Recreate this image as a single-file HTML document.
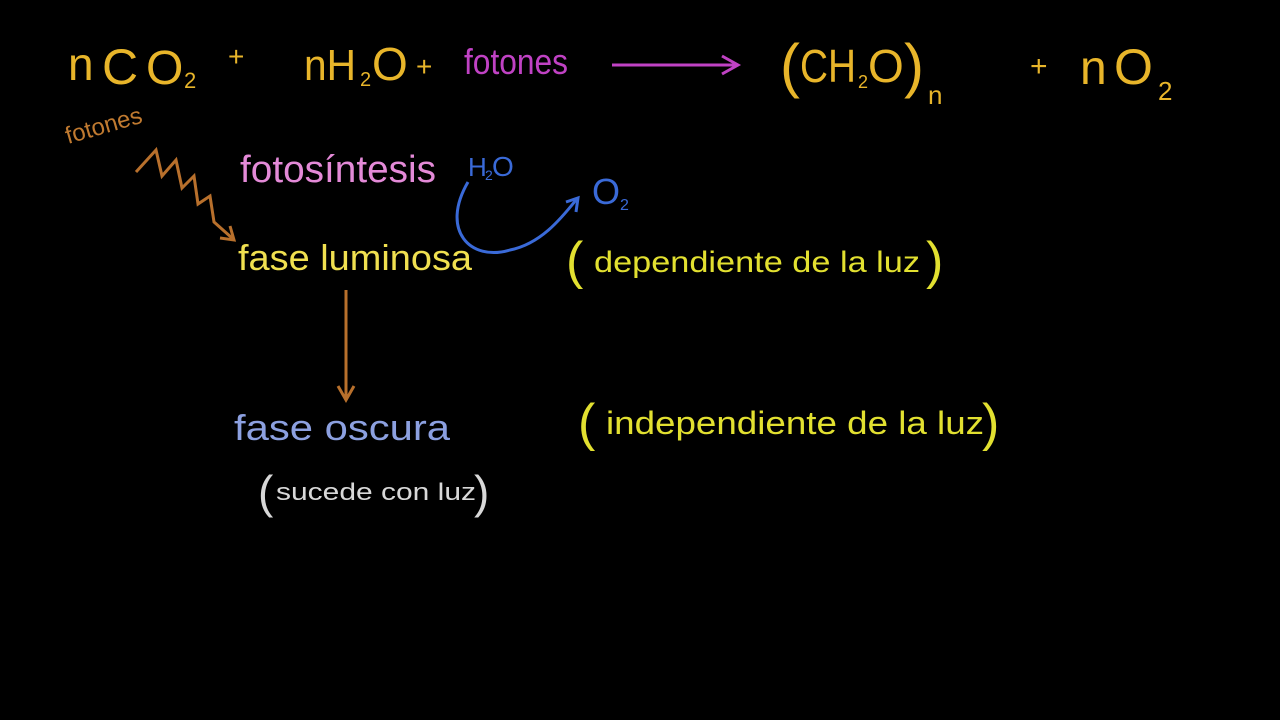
<!DOCTYPE html>
<html><head><meta charset="utf-8"><style>
html,body{margin:0;padding:0;background:#000;width:1280px;height:720px;overflow:hidden}
svg{display:block}
text{font-family:"Liberation Sans",sans-serif}
</style></head><body>
<svg width="1280" height="720" viewBox="0 0 1280 720">
<rect width="1280" height="720" fill="#000"/>
<g fill="#e8b52a">
<text x="68" y="80" font-size="46">n</text>
<text x="102" y="84" font-size="50">C</text>
<text x="146" y="84" font-size="48">O</text>
<text x="184" y="88" font-size="22">2</text>
<text x="228" y="66" font-size="28">+</text>
<text x="304" y="80" font-size="44" textLength="52" lengthAdjust="spacingAndGlyphs">nH</text>
<text x="360" y="86" font-size="20">2</text>
<text x="372" y="80" font-size="46">O</text>
<text x="416" y="76" font-size="28">+</text>
<text x="780" y="86" font-size="60">(</text>
<text x="800" y="82" font-size="46" textLength="56" lengthAdjust="spacingAndGlyphs">CH</text>
<text x="858" y="88" font-size="18">2</text>
<text x="868" y="82" font-size="46">O</text>
<text x="904" y="86" font-size="60">)</text>
<text x="928" y="104" font-size="26">n</text>
<text x="1030" y="76" font-size="30">+</text>
<text x="1080" y="84" font-size="48">n</text>
<text x="1114" y="84" font-size="50">O</text>
<text x="1158" y="100" font-size="26">2</text>
</g>
<text x="464" y="74" font-size="36" fill="#c042c4" textLength="104" lengthAdjust="spacingAndGlyphs">fotones</text>
<line x1="612" y1="65" x2="736" y2="65" stroke="#c042c4" stroke-width="3"/>
<polyline points="722,56 738,65 722,74" fill="none" stroke="#c042c4" stroke-width="3"/>
<text x="68" y="144" font-size="24" fill="#c07a30" transform="rotate(-16 68 144)">fotones</text>
<path d="M136,172 L156,150 L162,176 L176,160 L182,188 L194,176 L198,204 L210,196 L214,222 L232,238" fill="none" stroke="#b8702c" stroke-width="3"/>
<polyline points="220,238 234,240 230,226" fill="none" stroke="#b8702c" stroke-width="3"/>
<text x="240" y="182" font-size="38" fill="#e48ad8" textLength="196" lengthAdjust="spacingAndGlyphs">fotosíntesis</text>
<text x="468" y="176" font-size="26" fill="#3a6ad8">H</text><text x="485" y="180" font-size="14" fill="#3a6ad8">2</text><text x="492" y="176" font-size="28" fill="#3a6ad8">O</text>
<text x="592" y="204" font-size="36" fill="#3a6ad8">O</text><text x="620" y="210" font-size="16" fill="#3a6ad8">2</text>
<path d="M468,182 C440,230 470,262 510,250 C540,244 560,220 576,200" fill="none" stroke="#3a6ad8" stroke-width="3"/>
<polyline points="566,202 578,198 576,212" fill="none" stroke="#3a6ad8" stroke-width="3"/>
<text x="238" y="270" font-size="36" fill="#f0e050" textLength="234" lengthAdjust="spacingAndGlyphs">fase luminosa</text>
<text x="566" y="278" font-size="52" fill="#e2e030">(</text>
<text x="594" y="272" font-size="30" fill="#e2e030" textLength="326" lengthAdjust="spacingAndGlyphs">dependiente de la luz</text>
<text x="926" y="278" font-size="52" fill="#e2e030">)</text>
<line x1="346" y1="290" x2="346" y2="398" stroke="#b8702c" stroke-width="3"/>
<polyline points="338,386 346,400 354,386" fill="none" stroke="#b8702c" stroke-width="3"/>
<text x="234" y="440" font-size="36" fill="#8ca0e0" textLength="216" lengthAdjust="spacingAndGlyphs">fase oscura</text>
<text x="578" y="440" font-size="52" fill="#e2e030">(</text>
<text x="606" y="434" font-size="32" fill="#e2e030" textLength="378" lengthAdjust="spacingAndGlyphs">independiente de la luz</text>
<text x="982" y="440" font-size="52" fill="#e2e030">)</text>
<text x="258" y="508" font-size="46" fill="#d8d8d8">(</text>
<text x="276" y="500" font-size="24" fill="#d8d8d8" textLength="200" lengthAdjust="spacingAndGlyphs">sucede con luz</text>
<text x="474" y="508" font-size="46" fill="#d8d8d8">)</text>
</svg>
</body></html>
